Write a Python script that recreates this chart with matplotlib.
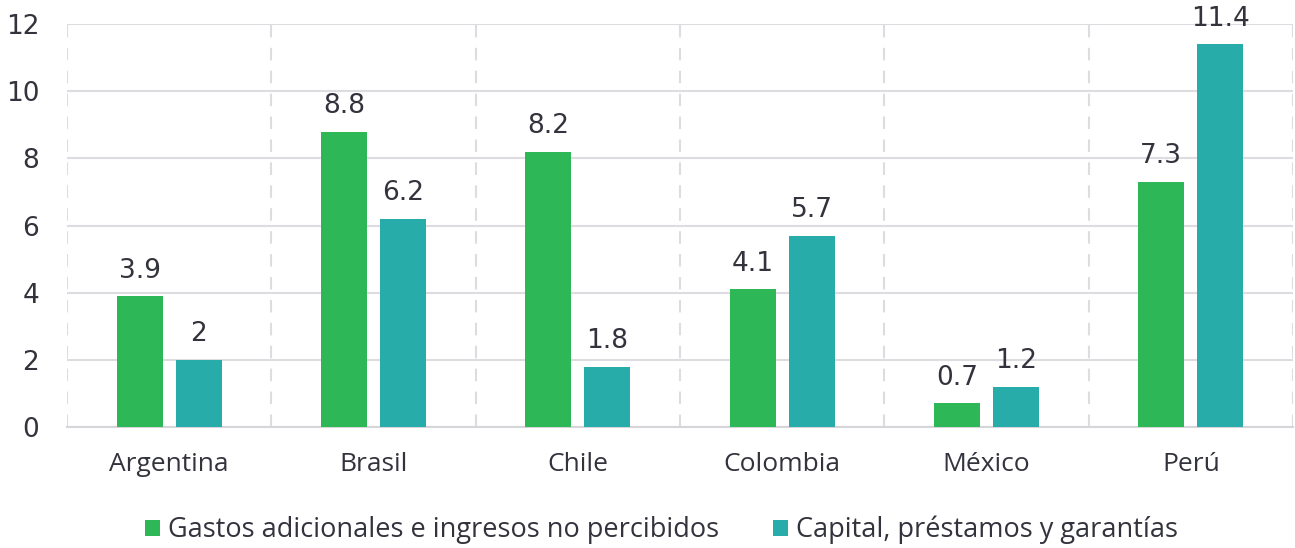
import matplotlib.pyplot as plt
import numpy as np

paises = ['Argentina', 'Brasil', 'Chile', 'Colombia', 'México', 'Perú']
gastos = [3.9, 8.8, 8.2, 4.1, 0.7, 7.3]
capital = [2, 6.2, 1.8, 5.7, 1.2, 11.4]
etiquetas = ['Gastos adicionales e ingresos no percibidos', 'Capital, préstamos y garantías']

verde = '#2DB757'
turquesa = '#27ACAA'
texto = '#33333D'
gris = '#DCDCE1'

plt.rcParams['font.family'] = ['Open Sans', 'DejaVu Sans']
numeros = ['DejaVu Sans']

fig = plt.figure(figsize=(12.95, 5.48), dpi=100)
ax = fig.add_axes([0.0517, 0.2208, 0.9468, 0.7352])

pos = np.arange(len(paises))
w = 0.225
gap = 0.064
b1 = ax.bar(pos - (w + gap) / 2, gastos, width=w, color=verde, label=etiquetas[0], zorder=3)
b2 = ax.bar(pos + (w + gap) / 2, capital, width=w, color=turquesa, label=etiquetas[1], zorder=3)

for bars, vals in ((b1, gastos), (b2, capital)):
    for b, v in zip(bars, vals):
        txt = ('%g' % v)
        ax.annotate(txt, (b.get_x() + b.get_width() / 2, v), xytext=(0, 9),
                    textcoords='offset points', ha='center', va='bottom',
                    fontsize=19, color=texto, family=numeros)

ax.set_xlim(-0.5, len(paises) - 0.5)
ax.set_ylim(0, 12)
ax.set_yticks(range(0, 13, 2))
ax.yaxis.grid(True, color=gris, linewidth=1.5, zorder=0)
for x in np.arange(-0.5, len(paises), 1):
    ax.axvline(x, color=gris, linewidth=1.5, linestyle=(0, (6, 5)), zorder=0)

ax.set_xticks(pos)
ax.set_xticklabels(paises)
ax.tick_params(axis='both', length=0, labelsize=19, labelcolor=texto)
for lab in ax.get_yticklabels():
    lab.set_family(numeros)
ax.tick_params(axis='y', pad=20)
ax.tick_params(axis='x', pad=18)
for s in ['top', 'right', 'left']:
    ax.spines[s].set_visible(False)
ax.spines['bottom'].set_color('#D5D5DA')
ax.spines['bottom'].set_linewidth(1.5)

fig.legend(loc='lower center', ncol=2, frameon=False, fontsize=19.5,
           bbox_to_anchor=(0.511, -0.038), handlelength=0.55, handleheight=0.55,
           handletextpad=0.3, columnspacing=2.0, labelcolor=texto)

fig.savefig('out.png', dpi=100)
